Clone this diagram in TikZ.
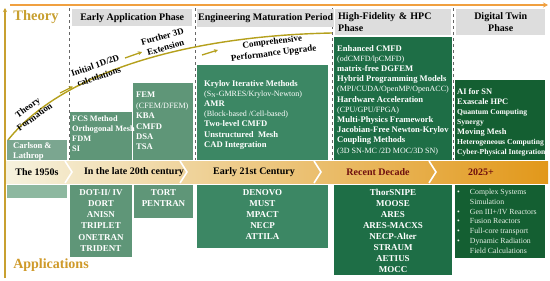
\documentclass[tikz,border=0pt]{standalone}
\usepackage{fontspec}
\setmainfont{Liberation Serif}
\usetikzlibrary{arrows.meta}
\definecolor{gA}{HTML}{7BA690}
\definecolor{gAl}{HTML}{8DB8A0}
\definecolor{gB}{HTML}{5F9678}
\definecolor{gC}{HTML}{3C8764}
\definecolor{gD}{HTML}{1E6E46}
\definecolor{gE}{HTML}{145F32}
\definecolor{hdrgray}{HTML}{DDDDDD}
\definecolor{goldT}{HTML}{C8A030}
\definecolor{goldA}{HTML}{CF9A2A}
\definecolor{olivec}{HTML}{B5A01C}
\definecolor{orangeline}{HTML}{F0A040}
\definecolor{maroonc}{HTML}{6E0E0E}
\definecolor{bandL}{HTML}{F6F2DE}
\definecolor{bandM}{HTML}{F3C07C}
\definecolor{bandR}{HTML}{E2981A}
\definecolor{futtext}{HTML}{E6F0E6}
\begin{document}
\begin{tikzpicture}[x=1pt,y=-1pt,
  box/.style={inner sep=0pt, outer sep=0pt, anchor=north west, draw=none},
  utext/.style={text=white, inner sep=0pt, anchor=north west, align=left, font=\bfseries\fontsize{8.6}{10.2}\selectfont},
  ltext/.style={text=white, inner sep=0pt, anchor=north, align=center, font=\bfseries\fontsize{9}{11.1}\selectfont},
  hdr/.style={fill=hdrgray, inner sep=1pt, anchor=north west, font=\bfseries\fontsize{10}{12}\selectfont},
  bandtext/.style={font=\bfseries\fontsize{10}{12}\selectfont, inner sep=0pt},
  rlabel/.style={font=\bfseries\fontsize{9}{11.6}\selectfont, align=center, inner sep=0pt},
  trend/.style={olivec, line width=1.4pt},
  smallarrow/.style={olivec, line width=1.3pt, -{Stealth[length=4pt,width=4pt]}},
  sep/.style={dashed, draw=gray!80!black, line width=0.6pt},
  chev/.style={white, line width=1.6pt}
]
\useasboundingbox (0,0) rectangle (550,281);
\fill[white] (0,0) rectangle (550,281);

% dashed separators
\draw[sep] (69,8) -- (69,160);
\draw[sep] (195,8) -- (195,160);
\draw[sep] (332,8) -- (332,160);
\draw[sep] (453,8) -- (453,160);

% headers
\node[hdr, minimum width=120pt, minimum height=17pt] (h1) at (72,9) {Early Application Phase};
\node[hdr, minimum width=135pt, minimum height=18pt] (h2) at (197,9) {Engineering Maturation Period};
\node[hdr, minimum width=116pt, minimum height=26pt, text width=110pt, align=left, inner sep=3pt] (h3) at (335,9) {High-Fidelity \& HPC\\Phase};
\node[hdr, minimum width=89pt, minimum height=26pt, align=center] (h4) at (456,9) {Digital Twin\\Phase};

% titles
\node[text=goldT, font=\bfseries\fontsize{14.5}{16}\selectfont, inner sep=0pt] (theory) at (36,17) {Theory};
\node[text=goldA, font=\bfseries\fontsize{14}{16}\selectfont, inner sep=0pt] (apps) at (51,265) {Applications};

% upper boxes
\node[box, fill=gA, minimum width=60pt, minimum height=20pt] (carl) at (7,140) {};
\node[box, fill=gB, minimum width=62pt, minimum height=48pt] (fcs) at (70,112) {};
\node[box, fill=gB, minimum width=60pt, minimum height=77pt] (fem) at (133,83) {};
\node[box, fill=gC, minimum width=131pt, minimum height=95pt] (kry) at (197,65) {};
\node[box, fill=gD, minimum width=118pt, minimum height=123pt] (hpc) at (334,37) {};
\node[box, fill=gE, minimum width=90pt, minimum height=80pt] (dig) at (455,80) {};

\node[utext, font=\bfseries\fontsize{8.6}{10}\selectfont] (carlT) at (13,142) {Carlson \&\\Lathrop};
\node[utext, font=\bfseries\fontsize{8.3}{10}\selectfont] (fcsT) at (72,116) {FCS Method\\Orthogonal Mesh\\FDM\\SI};
\node[utext, font=\bfseries\fontsize{8.6}{10.4}\selectfont] (femT) at (136,92) {FEM\\{\mdseries\fontsize{8.1}{10.4}\selectfont(CFEM/DFEM)}\\KBA\\CMFD\\DSA\\TSA};
\node[utext] (kryT) at (204,80) {Krylov Iterative Methods\\{\mdseries\fontsize{8}{10.2}\selectfont(S\textsubscript{N}-GMRES/Krylov-Newton)}\\AMR\\{\mdseries\fontsize{8}{10.2}\selectfont(Block-based /Cell-based)}\\Two-level CMFD\\Unstructured\ \ Mesh\\CAD Integration};
\node[utext] (hpcT) at (337,45) {Enhanced CMFD\\{\mdseries\fontsize{8}{10.2}\selectfont(odCMFD/lpCMFD)}\\matrix-free DGFEM\\Hybrid Programming Models\\{\mdseries\fontsize{8}{10.2}\selectfont(MPI/CUDA/OpenMP/OpenACC)}\\Hardware Acceleration\\{\mdseries\fontsize{8}{10.2}\selectfont(CPU/GPU/FPGA)}\\Multi-Physics Framework\\Jacobian-Free Newton-Krylov\\Coupling Methods\\{\mdseries\fontsize{8}{10.2}\selectfont(3D SN-MC /2D MOC/3D SN)}};
\node[utext, font=\bfseries\fontsize{8.4}{10}\selectfont] (digT) at (457,88) {AI for SN\\Exascale HPC\\{\fontsize{7.6}{10}\selectfont Quantum Computing}\\{\fontsize{7.6}{10}\selectfont Synergy}\\Moving Mesh\\{\fontsize{7.6}{10}\selectfont Heterogeneous Computing}\\{\fontsize{7.6}{10}\selectfont Cyber-Physical Integration}};

% band
\shade[left color=bandL, middle color=bandM, right color=bandR] (5,161) rectangle (548,183);
\draw[chev] (65,161) -- (72,172) -- (65,183);
\draw[chev] (180,161) -- (187,172) -- (180,183);
\draw[chev] (314,161) -- (321,172) -- (314,183);
\draw[chev] (429,161) -- (436,172) -- (429,183);
\node[bandtext] (b1) at (37,172) {The 1950s};
\node[bandtext] (b2) at (134,172) {In the late 20th century};
\node[bandtext] (b3) at (254,172) {Early 21st Century};
\node[bandtext, text=maroonc] (b4) at (378,172) {Recent Decade};
\node[bandtext, text=maroonc] (b5) at (481,172) {2025+};

% lower boxes
\node[box, fill=gAl, minimum width=60pt, minimum height=13pt] (emp) at (7,185) {};
\node[box, fill=gB, minimum width=62pt, minimum height=72pt] (dot) at (70,185) {};
\node[box, fill=gB, minimum width=59pt, minimum height=33pt] (tort) at (134,185) {};
\node[box, fill=gC, minimum width=131pt, minimum height=63pt] (den) at (197,185) {};
\node[box, fill=gD, minimum width=118pt, minimum height=90pt] (thor) at (334,185) {};
\node[box, fill=gE, minimum width=90pt, minimum height=73pt] (fut) at (455,185) {};

\node[ltext] (dotT) at (101,189.5) {DOT-II/ IV\\DORT\\ANISN\\TRIPLET\\ONETRAN\\TRIDENT};
\node[ltext] (tortT) at (163.5,189.5) {TORT\\PENTRAN};
\node[ltext, font=\bfseries\fontsize{9}{11}\selectfont] (denT) at (262.5,189.5) {DENOVO\\MUST\\MPACT\\NECP\\ATTILA};
\node[ltext, font=\bfseries\fontsize{9}{11}\selectfont] (thorT) at (393,189.5) {ThorSNIPE\\MOOSE\\ARES\\ARES-MACXS\\NECP-Alter\\STRAUM\\AETIUS\\MOCC};
\node[inner sep=0pt, anchor=north west, text=futtext, font=\fontsize{7.8}{9.8}\selectfont] (futT) at (457,187.4)
 {\begin{tabular}{@{}l@{\hspace{10pt}}l@{}}
 • & Complex Systems\\
   & Simulation\\
 • & Gen III+/IV Reactors\\
 • & Fusion Reactors\\
 • & Full-core transport\\
 • & Dynamic Radiation\\
   & Field Calculations
 \end{tabular}};

% axes
\coordinate (topL) at (10,5);
\coordinate (topR) at (548,5);
\coordinate (axB) at (5,278);
\coordinate (axT) at (5,8);
\draw[orangeline, line width=1.2pt, -{Stealth[length=5pt,width=5pt]}] (topL) -- (topR);
\draw[goldT, line width=1.2pt, -{Stealth[length=4pt,width=4pt]}] (axB) -- (axT);

% trend curve
\coordinate (cs) at (8,140);
\coordinate (ce) at (332,33);
\draw[trend] (cs) .. controls (60,75) and (180,36) .. (ce);

% small arrows
\coordinate (a1s) at (60,93); \coordinate (a1e) at (73,86.5);
\coordinate (a2s) at (125,58); \coordinate (a2e) at (142,52);
\coordinate (a3s) at (202,55); \coordinate (a3e) at (218,50);
\draw[smallarrow] (a1s) -- (a1e);
\draw[smallarrow] (a2s) -- (a2e);
\draw[smallarrow] (a3s) -- (a3e);

% rotated labels
\node[rlabel, rotate=36] (lT) at (31,112) {Theory\\Formation};
\node[rlabel, rotate=19] (lI) at (97,71) {Initial 1D/2D\\calculations};
\node[rlabel, rotate=16] (lF) at (164,42) {Further 3D\\Extension};
\node[rlabel, rotate=7] (lC) at (273,48) {Comprehensive\\Performance Upgrade};
\end{tikzpicture}
\end{document}
